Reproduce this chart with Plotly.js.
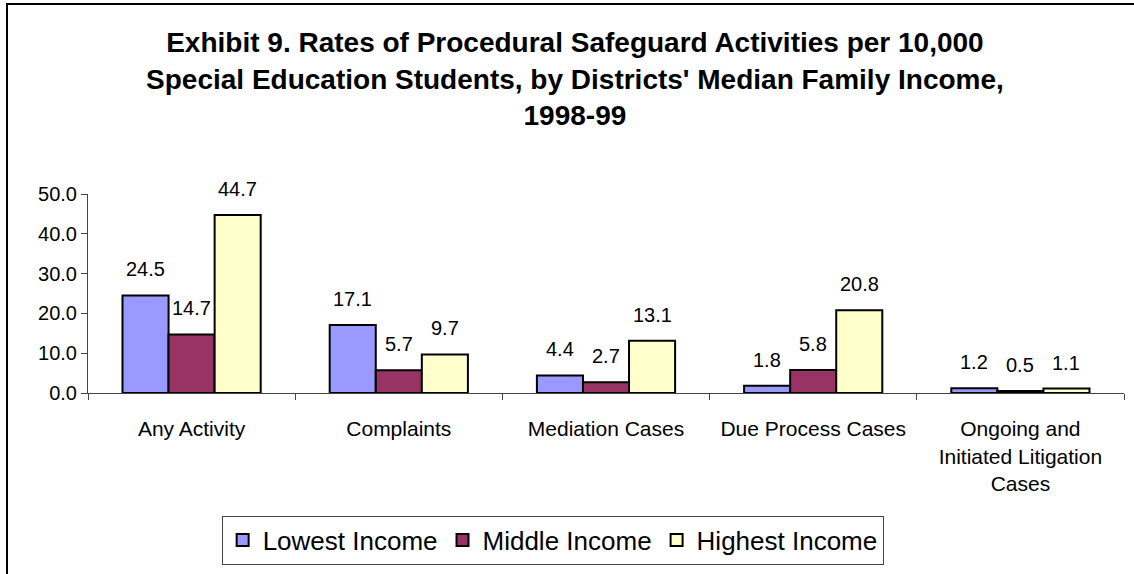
<!DOCTYPE html>
<html>
<head>
<meta charset="utf-8">
<script src="https://cdn.plot.ly/plotly-3.0.1.min.js"></script>
<style>
  html, body { margin: 0; padding: 0; background: #fff; }
  #chart { width: 1134px; height: 574px; }
  #frame { position: absolute; left: 6px; top: 3px; width: 1140px; height: 580px;
           border-left: 2px solid #000; border-top: 2px solid #000; pointer-events: none; }
</style>
</head>
<body>
<div id="chart"></div>
<div id="frame"></div>
<script>
const categories = ["Any Activity", "Complaints", "Mediation Cases", "Due Process Cases",
  "Ongoing and<br>Initiated Litigation<br>Cases"];
const seriesNames = ["Lowest Income", "Middle Income", "Highest Income"];
const lowestIncome  = [24.5, 17.1, 4.4, 1.8, 1.2];
const middleIncome  = [14.7, 5.7, 2.7, 5.8, 0.5];
const highestIncome = [44.7, 9.7, 13.1, 20.8, 1.1];
const yTickVals = [0, 10, 20, 30, 40, 50];
const yTickText = ["0.0", "10.0", "20.0", "30.0", "40.0", "50.0"];

const seriesValues = [lowestIncome, middleIncome, highestIncome];
const seriesColors = ["#9999FF", "#993366", "#FFFFCC"];
const FONT = "Liberation Sans, Arial, sans-serif";

const traces = seriesValues.map((vals, i) => ({
  type: "bar",
  name: seriesNames[i],
  x: categories,
  y: vals,
  marker: { color: seriesColors[i], line: { color: "#000", width: 2 } },
  hoverinfo: "skip"
}));

const annotations = [];
const shifts = [-46, 0, 46];
seriesValues.forEach((vals, i) => {
  vals.forEach((v, j) => {
    annotations.push({
      x: categories[j], y: v, xref: "x", yref: "y",
      text: v.toFixed(1), showarrow: false,
      xshift: shifts[i], yshift: 13, yanchor: "bottom",
      font: { family: FONT, size: 20, color: "#000" }
    });
  });
});

const layout = {
  width: 1134, height: 574,
  margin: { l: 88, r: 10, t: 194, b: 177 },
  paper_bgcolor: "#fff", plot_bgcolor: "#fff",
  font: { family: FONT, color: "#000" },
  title: {
    text: "<b>Exhibit 9. Rates of Procedural Safeguard Activities per 10,000<br>Special Education Students, by Districts' Median Family Income,<br>1998-99</b>",
    font: { family: FONT, size: 28, color: "#000" },
    xref: "container", x: 0.507, xanchor: "center",
    yref: "container", y: 0.909, yanchor: "middle"
  },
  barmode: "group",
  bargap: 0.333, bargroupgap: 0,
  xaxis: {
    type: "category",
    showline: true, linecolor: "#444", linewidth: 1,
    ticks: "outside", tickson: "boundaries", ticklen: 6, tickcolor: "#444",
    tickfont: { family: FONT, size: 21, color: "#000" },
    ticklabelstandoff: 17,
    showgrid: false, zeroline: false, fixedrange: true
  },
  yaxis: {
    range: [0, 50],
    tickvals: yTickVals, ticktext: yTickText,
    showline: true, linecolor: "#444", linewidth: 1,
    ticks: "outside", ticklen: 6, tickcolor: "#444",
    tickfont: { family: FONT, size: 20, color: "#000" },
    showgrid: false, zeroline: false, fixedrange: true
  },
  showlegend: true,
  legend: {
    orientation: "h",
    x: 0.129, xanchor: "left",
    y: -0.616, yanchor: "top",
    bordercolor: "#444", borderwidth: 1,
    font: { family: FONT, size: 26, color: "#000" },
    itemwidth: 30, tracegroupgap: 0
  },
  annotations: annotations
};

Plotly.newPlot("chart", traces, layout, { displayModeBar: false, staticPlot: true });
</script>
</body>
</html>
